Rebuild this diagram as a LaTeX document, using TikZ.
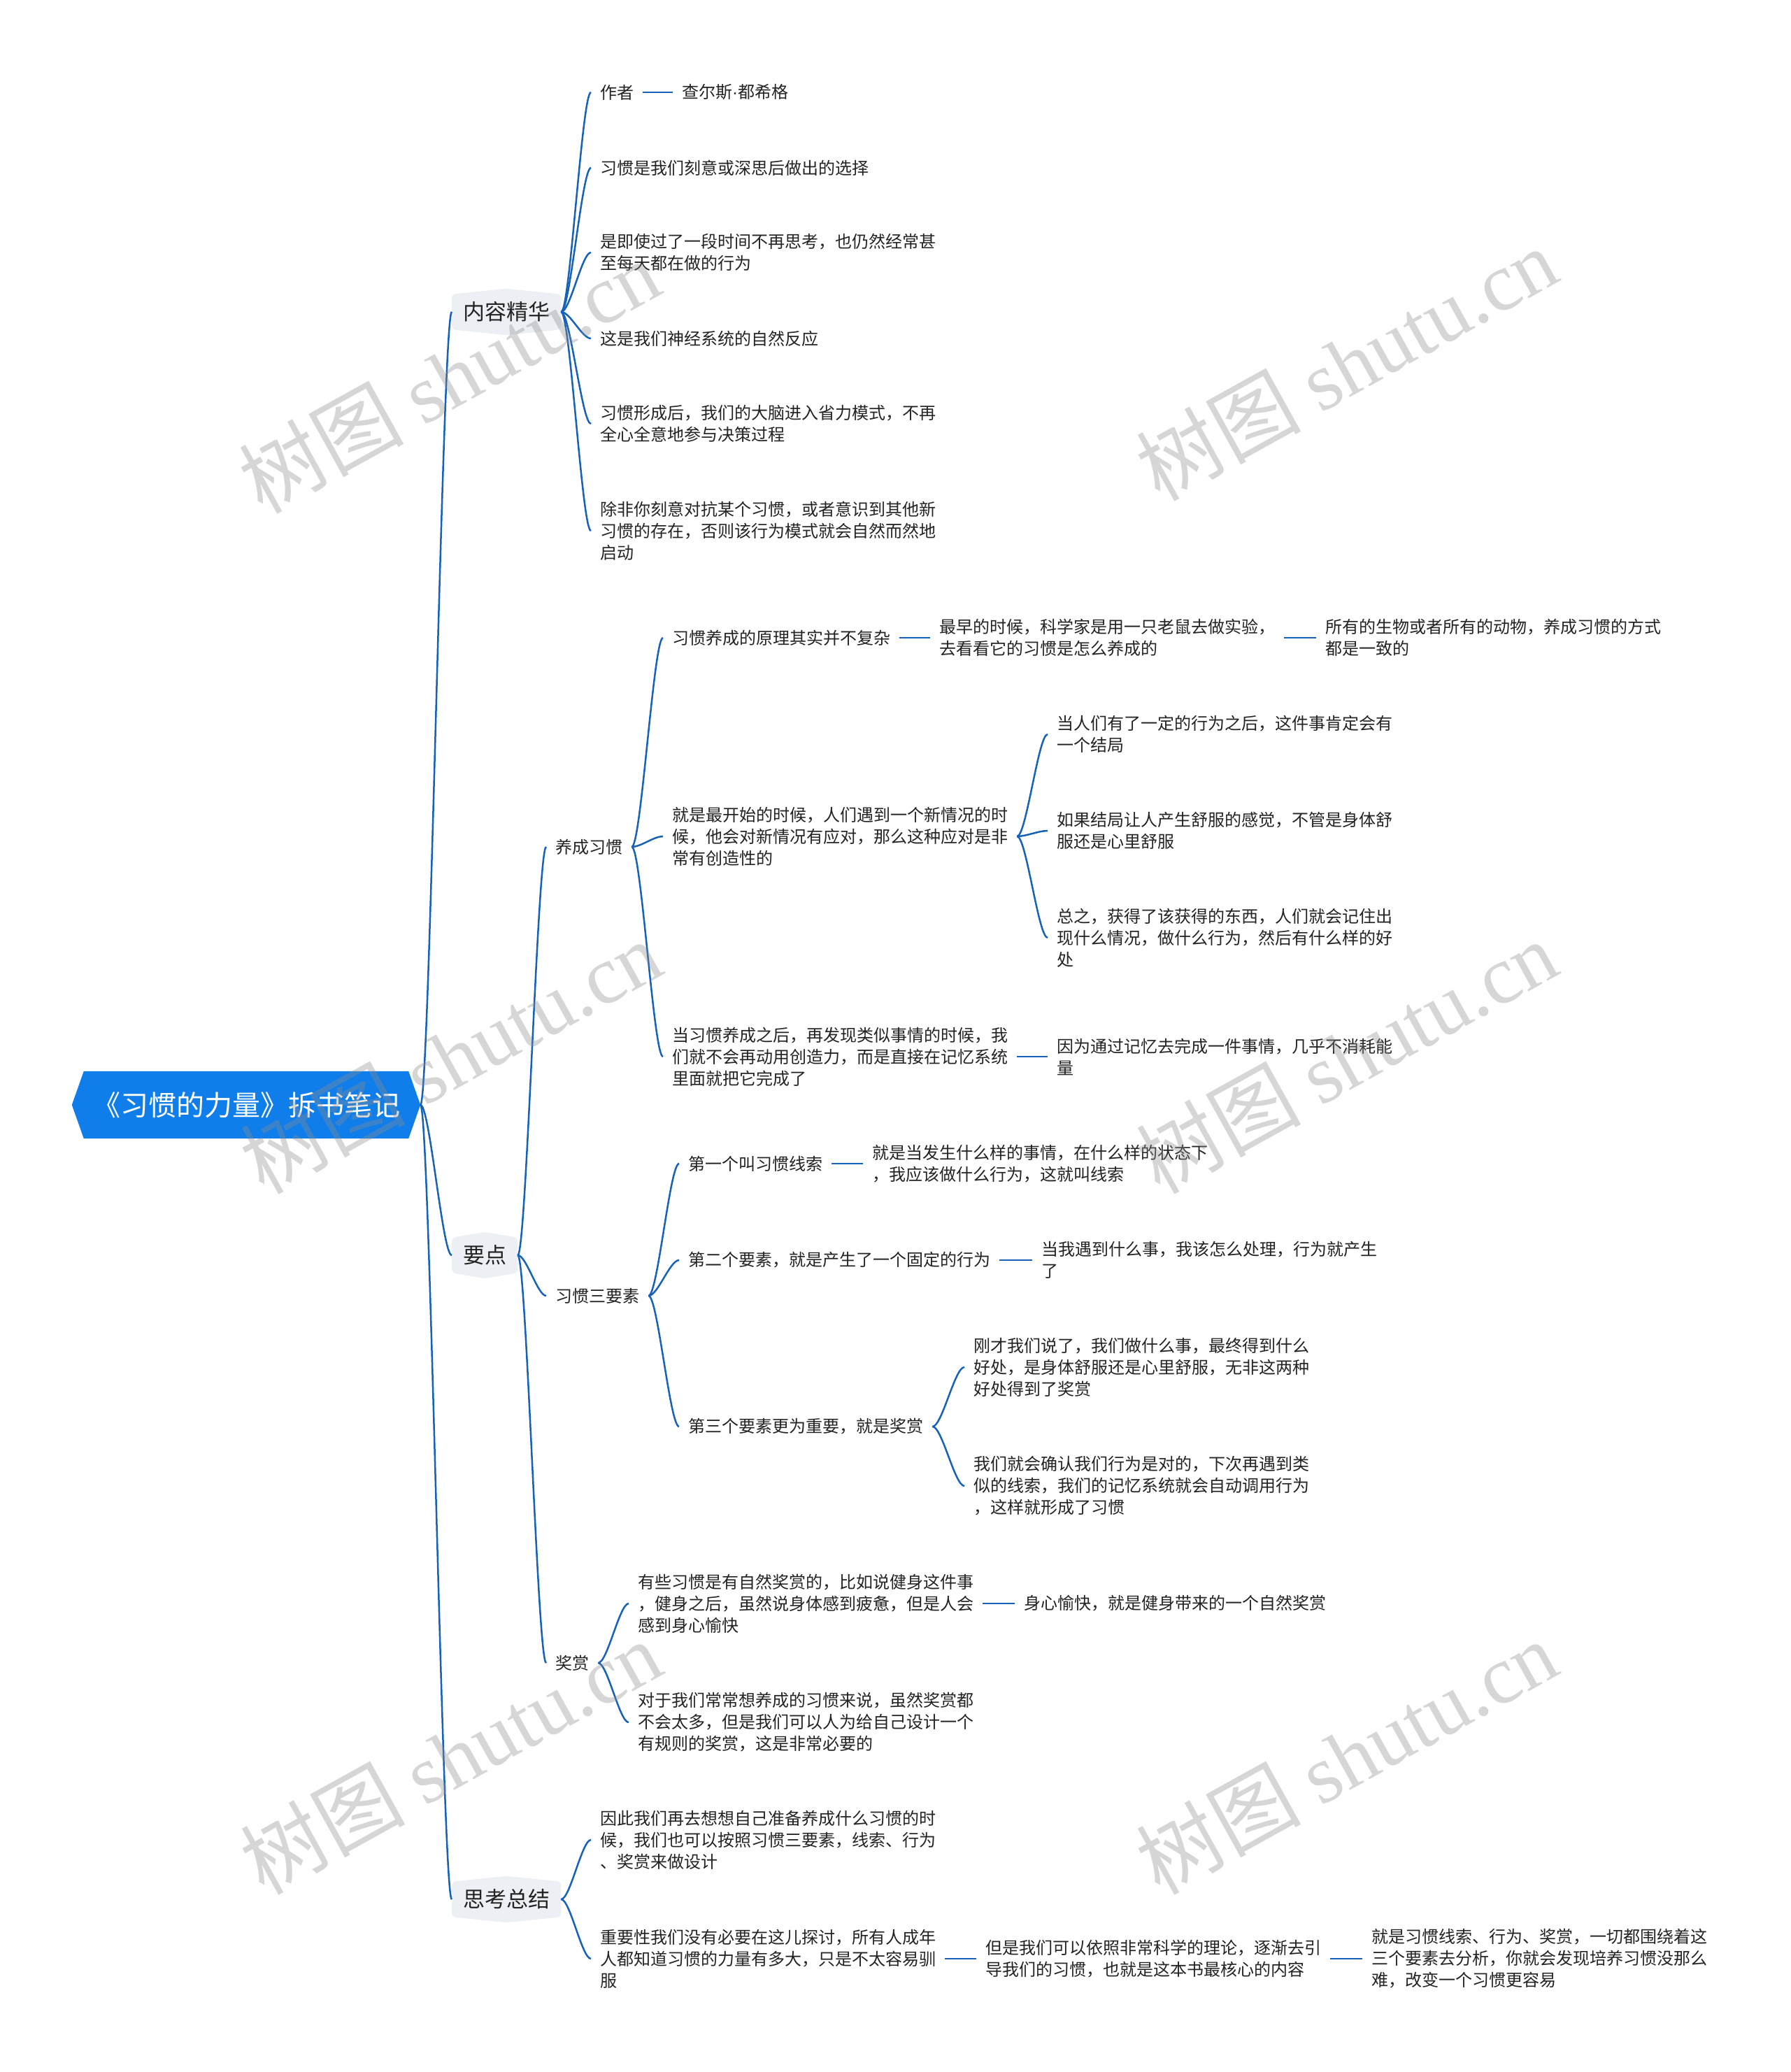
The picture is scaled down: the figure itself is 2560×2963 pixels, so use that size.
\documentclass[tikz,border=0pt]{standalone}
\usepackage{fontspec}
\setmainfont{Noto Sans CJK SC}
\newfontfamily\wmlat{Liberation Serif}
\newfontfamily\latsans{Liberation Sans}
\usetikzlibrary{calc}
\definecolor{conncol}{RGB}{22,98,184}
\definecolor{rootcol}{RGB}{16,126,234}
\definecolor{hexcol}{RGB}{236,240,244}
\definecolor{txtcol}{RGB}{35,35,35}
\pgfdeclarelayer{bg}
\pgfsetlayers{bg,main}
\tikzset{
 conn/.style={draw=conncol,line width=2.5pt},
 txt/.style={anchor=west,inner xsep=13pt,inner ysep=3pt,align=left,text=txtcol,font=\fontsize{24}{31}\selectfont},
 lvtwo/.style={anchor=west,inner xsep=16pt,inner ysep=0pt,minimum height=50pt,text=txtcol,font=\fontsize{31}{36}\selectfont},
 rootnode/.style={inner xsep=12pt,inner ysep=0pt,minimum height=96pt,text=white,font=\fontsize{40}{46}\selectfont},
 wmark/.style={rotate=29,text=black!45,text opacity=0.35,font=\fontsize{118}{120}\selectfont}
}
\newcommand\mmconn[2]{\draw[conn] let \p1=(#1), \p2=(#2) in (\p1) .. controls ({\x1+0.3*(\x2-\x1)},\y1) and ({\x2-0.3*(\x2-\x1)},\y2) .. (\p2);}
\newcommand\mmline[2]{\draw[conn] (#1.east) -- (#2.west);}
\newcommand\hexbg[1]{\begin{pgfonlayer}{bg}\fill[hexcol,rounded corners=6pt] (#1.north west) -- ($(#1.north)+(0,-8)$) -- (#1.north east) -- (#1.south east) -- ($(#1.south)+(0,8)$) -- (#1.south west) -- cycle;\end{pgfonlayer}}
\begin{document}
\begin{tikzpicture}[x=1pt,y=-1pt]
\begin{pgfonlayer}{bg}
\fill[white] (0,0) rectangle (2560,2963);
\end{pgfonlayer}
\useasboundingbox (0,0) rectangle (2560,2963);

% root
\node[rootnode] (root) at (352,1580) {《习惯的力量》拆书笔记};
\begin{pgfonlayer}{bg}
\fill[rootcol] (root.north west) -- (root.north east) -- ($(root.east)+(17,0)$) -- (root.south east) -- (root.south west) -- ($(root.west)+(-17,0)$) -- cycle;
\end{pgfonlayer}
\coordinate (rootR) at ($(root.east)+(17,0)$);

% level 2
\node[lvtwo] (k1) at (646,446) {内容精华};
\node[lvtwo] (k2) at (646,1795) {要点};
\node[lvtwo] (k3) at (646,2716) {思考总结};
\hexbg{k1}\hexbg{k2}\hexbg{k3}

% 内容精华
\node[txt] (c1) at (845,132) {作者};
\node[txt] (c1a) at (962,132) {查尔斯{\latsans ·}都希格};
\node[txt] (c2) at (845,240) {习惯是我们刻意或深思后做出的选择};
\node[txt] (c3) at (845,361) {是即使过了一段时间不再思考，也仍然经常甚\\至每天都在做的行为};
\node[txt] (c4) at (845,484) {这是我们神经系统的自然反应};
\node[txt] (c5) at (845,606) {习惯形成后，我们的大脑进入省力模式，不再\\全心全意地参与决策过程};
\node[txt] (c6) at (845,759) {除非你刻意对抗某个习惯，或者意识到其他新\\习惯的存在，否则该行为模式就会自然而然地\\启动};

% 要点
\node[txt] (y1) at (781,1211) {养成习惯};
\node[txt] (y2) at (781,1853) {习惯三要素};
\node[txt] (y3) at (781,2378) {奖赏};

\node[txt] (a1) at (948,912) {习惯养成的原理其实并不复杂};
\node[txt] (a1b) at (1330,912) {最早的时候，科学家是用一只老鼠去做实验，\\去看看它的习惯是怎么养成的};
\node[txt] (a1c) at (1882,912) {所有的生物或者所有的动物，养成习惯的方式\\都是一致的};
\node[txt] (a2) at (948,1196) {就是最开始的时候，人们遇到一个新情况的时\\候，他会对新情况有应对，那么这种应对是非\\常有创造性的};
\node[txt] (a2a) at (1498,1050) {当人们有了一定的行为之后，这件事肯定会有\\一个结局};
\node[txt] (a2b) at (1498,1188) {如果结局让人产生舒服的感觉，不管是身体舒\\服还是心里舒服};
\node[txt] (a2c) at (1498,1341) {总之，获得了该获得的东西，人们就会记住出\\现什么情况，做什么行为，然后有什么样的好\\处};
\node[txt] (a3) at (948,1511) {当习惯养成之后，再发现类似事情的时候，我\\们就不会再动用创造力，而是直接在记忆系统\\里面就把它完成了};
\node[txt] (a3a) at (1498,1511) {因为通过记忆去完成一件事情，几乎不消耗能\\量};

\node[txt] (b1) at (971,1664) {第一个叫习惯线索};
\node[txt] (b1a) at (1234,1664) {就是当发生什么样的事情，在什么样的状态下\\，我应该做什么行为，这就叫线索};
\node[txt] (b2) at (971,1802) {第二个要素，就是产生了一个固定的行为};
\node[txt] (b2a) at (1476,1802) {当我遇到什么事，我该怎么处理，行为就产生\\了};
\node[txt] (b3) at (971,2040) {第三个要素更为重要，就是奖赏};
\node[txt] (b3a) at (1379,1955) {刚才我们说了，我们做什么事，最终得到什么\\好处，是身体舒服还是心里舒服，无非这两种\\好处得到了奖赏};
\node[txt] (b3b) at (1379,2125) {我们就会确认我们行为是对的，下次再遇到类\\似的线索，我们的记忆系统就会自动调用行为\\，这样就形成了习惯};

\node[txt] (r1) at (899,2293) {有些习惯是有自然奖赏的，比如说健身这件事\\，健身之后，虽然说身体感到疲惫，但是人会\\感到身心愉快};
\node[txt] (r1a) at (1451,2293) {身心愉快，就是健身带来的一个自然奖赏};
\node[txt] (r2) at (899,2463) {对于我们常常想养成的习惯来说，虽然奖赏都\\不会太多，但是我们可以人为给自己设计一个\\有规则的奖赏，这是非常必要的};

% 思考总结
\node[txt] (s1) at (845,2631) {因此我们再去想想自己准备养成什么习惯的时\\候，我们也可以按照习惯三要素，线索、行为\\、奖赏来做设计};
\node[txt] (s2) at (845,2801) {重要性我们没有必要在这儿探讨，所有人成年\\人都知道习惯的力量有多大，只是不太容易驯\\服};
\node[txt] (s2a) at (1396,2801) {但是我们可以依照非常科学的理论，逐渐去引\\导我们的习惯，也就是这本书最核心的内容};
\node[txt] (s2b) at (1948,2801) {就是习惯线索、行为、奖赏，一切都围绕着这\\三个要素去分析，你就会发现培养习惯没那么\\难，改变一个习惯更容易};

% connectors
\mmconn{rootR}{k1.west}
\mmconn{rootR}{k2.west}
\mmconn{rootR}{k3.west}
\foreach \c in {c1,c2,c3,c4,c5,c6}{\mmconn{k1.east}{\c.west}}
\mmline{c1}{c1a}
\foreach \c in {y1,y2,y3}{\mmconn{k2.east}{\c.west}}
\foreach \c in {a1,a2,a3}{\mmconn{y1.east}{\c.west}}
\mmline{a1}{a1b}
\mmline{a1b}{a1c}
\foreach \c in {a2a,a2b,a2c}{\mmconn{a2.east}{\c.west}}
\mmline{a3}{a3a}
\foreach \c in {b1,b2,b3}{\mmconn{y2.east}{\c.west}}
\mmline{b1}{b1a}
\mmline{b2}{b2a}
\foreach \c in {b3a,b3b}{\mmconn{b3.east}{\c.west}}
\foreach \c in {r1,r2}{\mmconn{y3.east}{\c.west}}
\mmline{r1}{r1a}
\foreach \c in {s1,s2}{\mmconn{k3.east}{\c.west}}
\mmline{s2}{s2a}
\mmline{s2a}{s2b}

% watermarks
\node[wmark] (wm1) at (642,538) {树图 {\wmlat shutu.cn}};
\node[wmark] (wm2) at (1925,520) {树图 {\wmlat shutu.cn}};
\node[wmark] (wm3) at (644,1511) {树图 {\wmlat shutu.cn}};
\node[wmark] (wm4) at (1925,1511) {树图 {\wmlat shutu.cn}};
\node[wmark] (wm5) at (644,2512) {树图 {\wmlat shutu.cn}};
\node[wmark] (wm6) at (1925,2512) {树图 {\wmlat shutu.cn}};
\end{tikzpicture}
\end{document}
